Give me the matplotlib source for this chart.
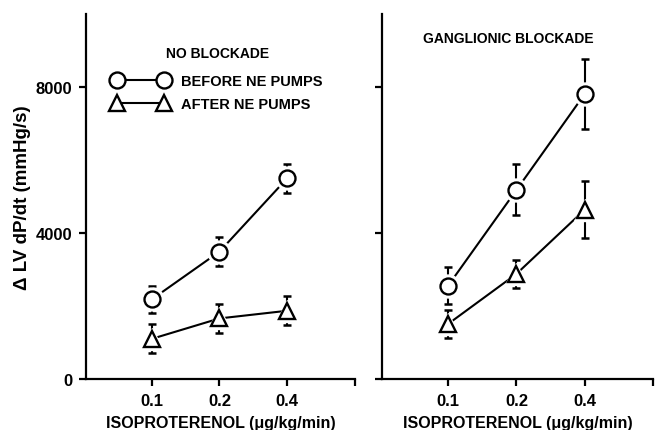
import numpy as np
import matplotlib
matplotlib.use("Agg")
import matplotlib.pyplot as plt
from matplotlib.lines import Line2D

plt.rcParams['font.family'] = ['Liberation Sans', 'DejaVu Sans']
plt.rcParams['font.weight'] = 'bold'
plt.rcParams['axes.labelweight'] = 'bold'

# doses (categorical x axis)
doses = ['0.1', '0.2', '0.4']

# no blockade panel
nb_before = [2180, 3490, 5500]
nb_before_err = [380, 400, 400]
nb_after = [1100, 1660, 1870]
nb_after_err = [400, 400, 400]

# ganglionic blockade panel
gb_before = [2560, 5180, 7810]
gb_before_err = [500, 700, 950]
gb_after = [1510, 2880, 4640]
gb_after_err = [380, 380, 780]

fig = plt.figure(figsize=(6.58, 4.31), dpi=100)
ax1 = fig.add_axes([0.1307, 0.1183, 0.4088, 0.8469])
ax2 = fig.add_axes([0.5805, 0.1183, 0.4119, 0.8469])


def draw_series(ax, y, err, marker, ms):
    x = np.arange(1, len(y) + 1)
    ax.errorbar(x, y, yerr=err, fmt='none', ecolor='black', elinewidth=1.5,
                capsize=3, capthick=1.8, zorder=2)
    ax.plot(x, y, color='black', lw=1.5, zorder=2)
    # white halo so the lines stop short of the symbols
    ax.plot(x, y, ls='none', marker=marker, ms=ms + 5, mfc='white',
            mec='white', zorder=3)
    ax.plot(x, y, ls='none', marker=marker, ms=ms, mfc='white',
            mec='black', mew=1.7, zorder=4)


def style_axes(ax, show_labels):
    for s in ['top', 'right']:
        ax.spines[s].set_visible(False)
    for s in ['left', 'bottom']:
        ax.spines[s].set_linewidth(1.6)
    ax.set_xlim(0.03, 4.0)
    ax.set_ylim(0, 10000)
    ax.set_xticks([1, 2, 3, 4])
    ax.set_xticklabels(doses + [''])
    ax.set_yticks([0, 4000, 8000])
    if not show_labels:
        ax.set_yticklabels([])
    ax.tick_params(direction='out', length=5, width=1.6, labelsize=12, pad=5)
    ax.set_xlabel('ISOPROTERENOL (\u03bcg/kg/min)', fontsize=11.5, labelpad=5)


draw_series(ax1, nb_before, nb_before_err, 'o', 11.5)
draw_series(ax1, nb_after, nb_after_err, '^', 11.5)
draw_series(ax2, gb_before, gb_before_err, 'o', 11.5)
draw_series(ax2, gb_after, gb_after_err, '^', 11.5)

style_axes(ax1, True)
style_axes(ax2, False)
ax1.set_ylabel('\u0394 LV dP/dt (mmHg/s)', fontsize=13.5, labelpad=3)

handles = [
    Line2D([], [], color='black', lw=1.5, marker='o', ms=11.5, mfc='white',
           mec='black', mew=1.7),
    Line2D([], [], color='black', lw=1.5, marker='^', ms=11.5, mfc='white',
           mec='black', mew=1.7),
]
leg = ax1.legend(handles, ['BEFORE NE PUMPS', 'AFTER NE PUMPS'], numpoints=2,
                 handlelength=3.8, handletextpad=0.9, labelspacing=0.6,
                 frameon=False, loc='upper left',
                 bbox_to_anchor=(0.05, 0.948), fontsize=10.5,
                 title='NO BLOCKADE',
                 title_fontproperties={'weight': 'bold', 'size': 10})
leg._legend_box.sep = 10

ax2.text(0.465, 0.935, 'GANGLIONIC BLOCKADE', transform=ax2.transAxes,
         ha='center', va='center', fontsize=10)

fig.savefig('out.png', dpi=100)
